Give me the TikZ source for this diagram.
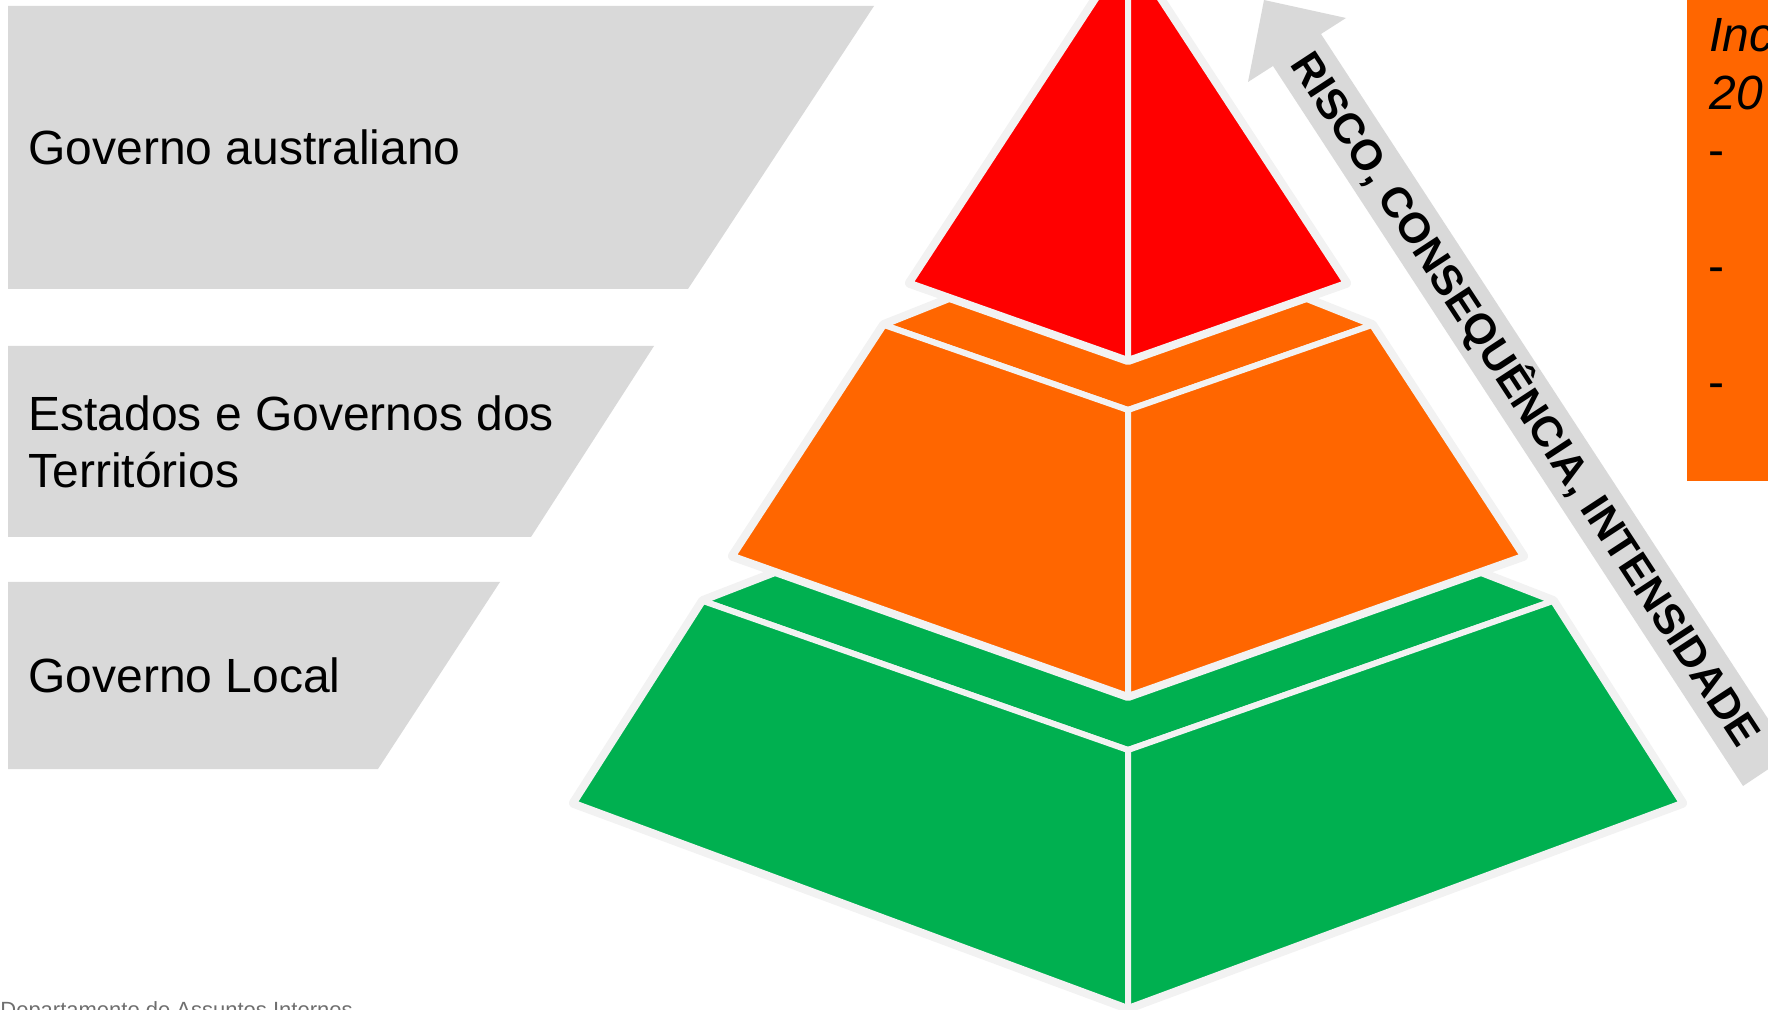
\documentclass[tikz,border=0pt]{standalone}
\usepackage{fontspec}
\setmainfont{Liberation Sans}
\usetikzlibrary{positioning}

\definecolor{boxgray}{HTML}{D9D9D9}
\definecolor{edgegray}{HTML}{F2F2F2}
\definecolor{tierred}{HTML}{FF0000}
\definecolor{tierorange}{HTML}{FF6600}
\definecolor{tiergreen}{HTML}{00B050}
\definecolor{footgray}{HTML}{6F6F6F}

\begin{document}
\begin{tikzpicture}[x=0.5pt, y=-0.5pt, node distance=58pt]
        \tikzstyle{levelbox} = [fill=boxgray]
        \tikzstyle{leveltext} = [anchor=west, inner sep=0pt, align=left, font=\fontsize{24}{28.5}\selectfont]
        \tikzstyle{tieroutline} = [draw=edgegray, line width=5pt, line join=round]
        \tikzstyle{tierface} = [draw=edgegray, line width=3pt, line join=round]
        \tikzstyle{notetext} = [anchor=base west, inner sep=0pt, font=\fontsize{24}{29}\selectfont]

        \useasboundingbox (0,0) rectangle (1768,1010);
        \clip (0,0) rectangle (1768,1010);

        %level boxes
        \fill[levelbox] (8,6) -- (874,6) -- (688,289) -- (8,289) -- cycle;
        \fill[levelbox] (8,346) -- (654,346) -- (531,537) -- (8,537) -- cycle;
        \fill[levelbox] (8,582) -- (500,582) -- (378,769) -- (8,769) -- cycle;
        \node[leveltext] (federal) at (28,147.5) {Governo australiano};
        \node[leveltext] (states) at (28,441.5) {Estados e Governos dos\\Territórios};
        \node[leveltext] (local) at (28,675.5) {Governo Local};

        %green tier
        \draw[tieroutline] (703,601) -- (1128,436) -- (1553,601) -- (1682,803) -- (1128,1008) -- (574,803) -- cycle;
        \filldraw[tierface, fill=tiergreen] (703,601) -- (1128,436) -- (1553,601) -- (1128,750) -- cycle;
        \filldraw[tierface, fill=tiergreen] (703,601) -- (1128,750) -- (1128,1008) -- (574,803) -- cycle;
        \filldraw[tierface, fill=tiergreen] (1553,601) -- (1128,750) -- (1128,1008) -- (1682,803) -- cycle;

        %orange tier
        \draw[tieroutline] (884,325) -- (1128,228) -- (1372,325) -- (1523,556) -- (1128,696) -- (733,556) -- cycle;
        \filldraw[tierface, fill=tierorange] (884,325) -- (1128,228) -- (1372,325) -- (1128,410) -- cycle;
        \filldraw[tierface, fill=tierorange] (884,325) -- (1128,410) -- (1128,696) -- (733,556) -- cycle;
        \filldraw[tierface, fill=tierorange] (1372,325) -- (1128,410) -- (1128,696) -- (1523,556) -- cycle;

        %red tier
        \draw[tieroutline] (1128,-50) -- (1346,283) -- (1128,360) -- (910,283) -- cycle;
        \filldraw[tierface, fill=tierred] (1128,-50) -- (1128,360) -- (910,283) -- cycle;
        \filldraw[tierface, fill=tierred] (1128,-50) -- (1128,360) -- (1346,283) -- cycle;

        %risk arrow
        \fill[boxgray] (1264,0) -- (1346,18) -- (1321,34) -- (1791,754) -- (1743,786) -- (1273,66) -- (1248,82) -- cycle;
        \node[rotate=-56.8, inner sep=0pt, font=\bfseries\fontsize{21.3}{25}\selectfont] (risk) at (1526,399) {RISCO, CONSEQUÊNCIA, INTENSIDADE};

        %note box
        \fill[tierorange] (1687,-5) rectangle (1800,481);
        \node[notetext, font=\itshape\fontsize{24}{29}\selectfont] (noteTitle) at (1709,52) {Inc};
        \node[notetext, font=\itshape\fontsize{24}{29}\selectfont] (noteYear) at (1709,110) {20};
        \node[notetext] (dashA) at (1708,167) {-};
        \node[notetext, below of=dashA] (dashB) {-};
        \node[notetext, below of=dashB] (dashC) {-};

        \node[anchor=base west, inner sep=0pt, text=footgray, font=\fontsize{11}{13}\selectfont] (footer) at (0,1017) {Departamento de Assuntos Internos};
    \end{tikzpicture}
\end{document}
